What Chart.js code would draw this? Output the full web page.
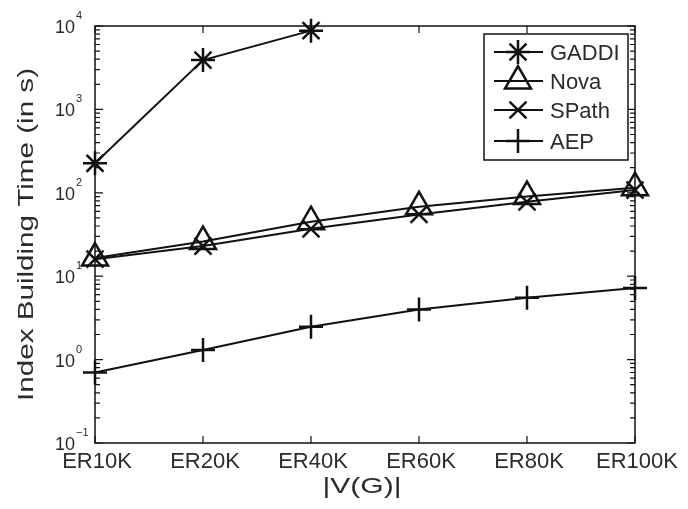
<!DOCTYPE html>
<html>
<head>
<meta charset="utf-8">
<script src="https://cdn.jsdelivr.net/npm/chart.js@4/dist/chart.umd.min.js"></script>
<style>
  html, body { margin: 0; padding: 0; background: #fff; }
  canvas { display: block; }
</style>
</head>
<body>
<canvas id="chart" width="688" height="509"></canvas>
<script>
// ===== Data =====
const categories = ['ER10K', 'ER20K', 'ER40K', 'ER60K', 'ER80K', 'ER100K'];
const gaddi = [226, 3900, 8800, null, null, null];
const nova = [16.5, 26, 45, 68, 90, 115];
const spath = [16, 23, 37, 55, 78, 108];
const aep = [0.70, 1.30, 2.48, 4.0, 5.5, 7.2];
const yDecades = [0.1, 1, 10, 100, 1000, 10000];
const yExponents = ['\u22121', '0', '1', '2', '3', '4'];

const INK = '#111';
const TEXT = '#2b2b2b';
const FONT = '"Liberation Sans", Arial, sans-serif';

function series(label, data, style, radius) {
  return {
    label, data,
    borderColor: INK,
    borderWidth: 2,
    pointStyle: style,
    pointRadius: radius,
    pointBorderWidth: 2.5,
    pointBorderColor: INK,
    pointBackgroundColor: 'rgba(255,255,255,0)',
    tension: 0,
    clip: false,
  };
}

// text stretched to a target width (the reference is a scaled figure)
function fitText(ctx, text, x, y, font, width, align) {
  ctx.save();
  ctx.font = font;
  const w = ctx.measureText(text).width;
  const k = width / w;
  ctx.translate(x, y);
  ctx.scale(k, 1);
  ctx.textAlign = align || 'center';
  ctx.fillText(text, 0, 0);
  ctx.restore();
}

// ===== Axes box, inward ticks, labels, legend =====
const frame = {
  id: 'frame',
  beforeDatasetsDraw(chart) {
    const { ctx, chartArea: a, scales: { x, y } } = chart;
    ctx.save();
    ctx.strokeStyle = INK;
    ctx.lineWidth = 1.5;
    ctx.strokeRect(a.left, a.top, a.right - a.left, a.bottom - a.top);

    ctx.beginPath();
    categories.forEach((c, i) => {
      const px = x.getPixelForValue(i);
      ctx.moveTo(px, a.bottom); ctx.lineTo(px, a.bottom - 7);
      ctx.moveTo(px, a.top); ctx.lineTo(px, a.top + 7);
    });
    yDecades.forEach((d, i) => {
      const py = y.getPixelForValue(d);
      ctx.moveTo(a.left, py); ctx.lineTo(a.left + 8, py);
      ctx.moveTo(a.right, py); ctx.lineTo(a.right - 8, py);
      if (i === yDecades.length - 1) return;
      for (let m = 2; m <= 9; m++) {
        const pm = y.getPixelForValue(d * m);
        ctx.moveTo(a.left, pm); ctx.lineTo(a.left + 5, pm);
        ctx.moveTo(a.right, pm); ctx.lineTo(a.right - 5, pm);
      }
    });
    ctx.lineWidth = 1.2;
    ctx.stroke();
    ctx.restore();
  },
  afterDraw(chart) {
    const { ctx, chartArea: a, scales: { x, y } } = chart;
    ctx.save();
    ctx.fillStyle = TEXT;
    ctx.textBaseline = 'alphabetic';

    // x tick labels
    ctx.font = `22px ${FONT}`;
    ctx.textAlign = 'center';
    categories.forEach((c, i) => {
      ctx.fillText(c, x.getPixelForValue(i) + 2, a.bottom + 25);
    });

    // y tick labels 10^n
    yDecades.forEach((d, i) => {
      const py = y.getPixelForValue(d);
      ctx.font = `18px ${FONT}`;
      ctx.textAlign = 'right';
      ctx.fillText('10', a.left - 20, py + 7);
      ctx.font = `11px ${FONT}`;
      ctx.textAlign = 'left';
      ctx.fillText(yExponents[i], a.left - 19, py - 7);
    });

    // axis titles
    fitText(ctx, '|V(G)|', 362, 493, `22px ${FONT}`, 79);
    ctx.save();
    ctx.translate(33, (a.top + a.bottom) / 2);
    ctx.rotate(-Math.PI / 2);
    fitText(ctx, 'Index Building Time (in s)', 0, 0, `22px ${FONT}`, 333);
    ctx.restore();

    // legend
    const box = { l: 484, t: 34, r: 628, b: 160 };
    ctx.fillStyle = '#fff';
    ctx.fillRect(box.l, box.t, box.r - box.l, box.b - box.t);
    ctx.strokeStyle = INK;
    ctx.lineWidth = 1.5;
    ctx.strokeRect(box.l, box.t, box.r - box.l, box.b - box.t);
    const rows = [52, 81, 110, 141];
    chart.data.datasets.forEach((ds, i) => {
      const cy = rows[i];
      ctx.strokeStyle = INK;
      ctx.lineWidth = 2;
      ctx.beginPath();
      ctx.moveTo(494, cy); ctx.lineTo(543, cy);
      ctx.stroke();
      ctx.lineWidth = 2.5;
      ctx.fillStyle = 'rgba(255,255,255,0)';
      Chart.helpers.drawPoint(ctx, {
        pointStyle: ds.pointStyle, radius: ds.pointRadius, rotation: 0, borderWidth: 2.5
      }, 518, cy);
      ctx.fillStyle = TEXT;
      ctx.font = `22px ${FONT}`;
      ctx.textAlign = 'left';
      ctx.fillText(ds.label, 550, cy + 8);
    });
    ctx.restore();
  }
};

new Chart(document.getElementById('chart'), {
  type: 'line',
  data: {
    labels: categories,
    datasets: [
      series('GADDI', gaddi, 'star', 12),
      series('Nova', nova, 'triangle', 15),
      series('SPath', spath, 'crossRot', 12),
      series('AEP', aep, 'cross', 12),
    ]
  },
  options: {
    responsive: false,
    animation: false,
    layout: { padding: { left: 95, right: 53, top: 26, bottom: 66 } },
    plugins: { legend: { display: false }, tooltip: { enabled: false } },
    scales: {
      x: {
        offset: false,
        ticks: { display: false },
        grid: { display: false, drawTicks: false },
        border: { display: false }
      },
      y: {
        type: 'logarithmic',
        min: 0.1,
        max: 10000,
        ticks: { display: false },
        grid: { display: false, drawTicks: false },
        border: { display: false }
      }
    }
  },
  plugins: [frame]
});
</script>
</body>
</html>
